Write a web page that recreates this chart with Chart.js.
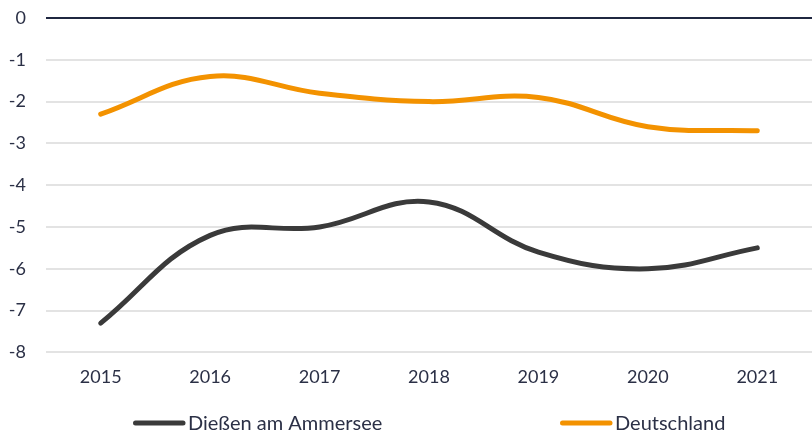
<!DOCTYPE html>
<html>
<head>
<meta charset="utf-8">
<script src="https://cdn.jsdelivr.net/npm/chart.js@4/dist/chart.umd.min.js"></script>
<style>
html,body{margin:0;padding:0;background:#fff;}
#wrap{width:812px;height:432px;position:relative;}
</style>
</head>
<body>
<div id="wrap"><canvas id="c" width="812" height="432"></canvas></div>
<script>
const years = ['2015','2016','2017','2018','2019','2020','2021'];
const diessen = [-7.3, -5.2, -5.0, -4.4, -5.6, -6.0, -5.5];
const deutschland = [-2.3, -1.4, -1.8, -2.0, -1.9, -2.6, -2.7];
const seriesNames = ['Dießen am Ammersee', 'Deutschland'];

const textColor = '#2b3046';

// Legend drawn below the chart (wide spacing as in the reference)
const bottomLegend = {
  id: 'bottomLegend',
  afterDraw(chart) {
    const c = chart.ctx;
    const starts = [133, 560];
    const y = 423;
    c.save();
    c.font = '20px Lato';
    c.textBaseline = 'middle';
    c.textAlign = 'left';
    chart.data.datasets.forEach((d, i) => {
      const x0 = starts[i];
      c.strokeStyle = d.borderColor;
      c.lineWidth = 5;
      c.lineCap = 'round';
      c.beginPath();
      c.moveTo(x0 + 2.5, y);
      c.lineTo(x0 + 50, y);
      c.stroke();
      c.fillStyle = textColor;
      c.fillText(d.label, x0 + 55, y + 1);
    });
    c.restore();
  }
};

const ctx = document.getElementById('c').getContext('2d');
new Chart(ctx, {
  type: 'line',
  data: {
    labels: years,
    datasets: [
      {label: seriesNames[0], data: diessen, borderColor: '#3a3a3a', backgroundColor: '#3a3a3a',
       borderWidth: 5, pointRadius: 0, tension: 0.4, borderCapStyle: 'round', fill: false},
      {label: seriesNames[1], data: deutschland, borderColor: '#f39200', backgroundColor: '#f39200',
       borderWidth: 5, pointRadius: 0, tension: 0.4, borderCapStyle: 'round', fill: false}
    ]
  },
  plugins: [bottomLegend],
  options: {
    responsive: false,
    animation: false,
    layout: {padding: {top: 0, right: 0, bottom: 30, left: 0}},
    plugins: {
      tooltip: {enabled: false},
      legend: {display: false}
    },
    scales: {
      x: {
        offset: true,
        grid: {display: false, drawTicks: false},
        border: {display: false},
        ticks: {font: {family: 'Lato', size: 18}, color: textColor, padding: 14}
      },
      y: {
        min: -8, max: 0,
        afterFit: (s) => { s.width = 46; s.paddingTop = 18; s.paddingBottom = 0; },
        ticks: {stepSize: 1, font: {family: 'Lato', size: 18}, color: textColor, padding: 20},
        grid: {
          drawTicks: false,
          lineWidth: 2,
          color: (c) => (c.tick && c.tick.value === 0) ? '#1f2740' : '#e3e3e3'
        },
        border: {display: false}
      }
    }
  }
});
</script>
</body>
</html>
